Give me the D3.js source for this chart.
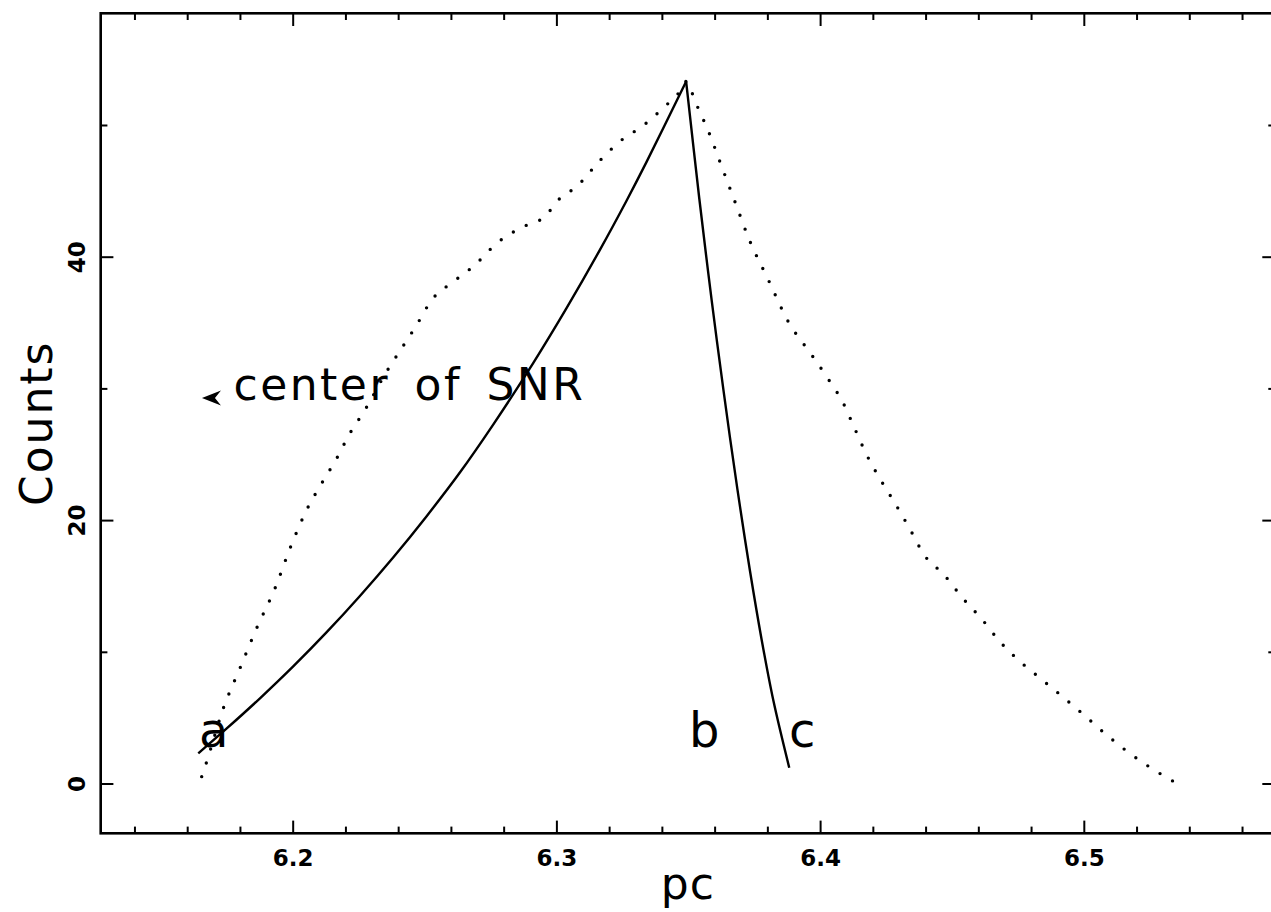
<!DOCTYPE html>
<html>
<head>
<meta charset="utf-8">
<script src="https://cdn.jsdelivr.net/npm/d3@7"></script>
<style>
  html, body { margin: 0; padding: 0; background: #fff; }
  svg { display: block; }
</style>
</head>
<body>
<svg id="chart" width="1271" height="912"></svg>
<script>
// Observed radial count profile (dotted curve)
const profilePc = [
  6.1655, 6.1674, 6.1737, 6.1800, 6.1863, 6.1933, 6.1990, 6.2053, 6.2110, 6.2167,
  6.2217, 6.2274, 6.2356, 6.2413, 6.2470, 6.2527, 6.2609, 6.2691, 6.2774, 6.2862,
  6.2963, 6.2995, 6.3083, 6.3165, 6.3250, 6.3327, 6.3408, 6.3470, 6.3492,
  6.3528, 6.3583, 6.3623, 6.3677, 6.3731, 6.3804, 6.3876, 6.3968, 6.4029, 6.4088,
  6.4132, 6.4177, 6.4230, 6.4288, 6.4341, 6.4395, 6.4471, 6.4538, 6.4613, 6.4680,
  6.4755, 6.4840, 6.4922, 6.5005, 6.5087, 6.5169, 6.5261, 6.5352
];
const profileCounts = [
  0.52, 1.66, 5.71, 8.75, 11.78, 14.82, 17.86, 20.77, 22.79, 24.69,
  26.59, 28.36, 31.27, 33.04, 34.81, 36.71, 38.10, 39.37, 41.02, 42.16,
  43.17, 44.05, 45.44, 47.30, 48.90, 49.92, 51.35, 52.60, 53.30,
  51.70, 49.20, 47.05, 44.18, 41.31, 38.23, 35.19, 32.54, 30.77, 28.87,
  26.92, 24.94, 23.04, 21.15, 19.30, 17.35, 15.83, 14.14, 12.49, 10.82,
  9.32, 7.91, 6.55, 5.13, 3.68, 2.37, 1.10, 0.02
];

// Model curve from a to the peak b
const risePc = [
  6.1642, 6.1750, 6.1876, 6.2002, 6.2129, 6.2255, 6.2381, 6.2508, 6.2634,
  6.2761, 6.2912, 6.3039, 6.3165, 6.3267, 6.3341, 6.3492
];
const riseCounts = [
  2.29, 4.18, 6.47, 8.89, 11.49, 14.24, 17.16, 20.30, 23.61,
  27.27, 31.92, 36.11, 40.52, 44.29, 47.16, 53.30
];

// Model curve from the peak b down to c
const fallPc = [6.3492, 6.3542, 6.3576, 6.3608, 6.3658, 6.3696, 6.3734, 6.3778, 6.3823, 6.3883];
const fallCounts = [53.30, 44.40, 38.76, 33.70, 26.30, 21.06, 16.15, 10.96, 6.28, 1.20];

// Axis ticks
const xMajorTicks = [6.2, 6.3, 6.4, 6.5];
const xMinorTicks = d3.range(7, 29).map(i => +(6 + i * 0.02).toFixed(2))
  .filter(v => !xMajorTicks.some(m => Math.abs(m - v) < 1e-9));
const yMajorTicks = [0, 20, 40];
const yMinorTicks = [10, 30, 50];
const xDomain = [6.1272, 6.5725];
const yDomain = [-3.78, 58.48];

// Point labels a, b, c
const pointLabels = ["a", "b", "c"];
const pointLabelPc = [6.1645, 6.3503, 6.3882];
const pointLabelCounts = [2.79, 2.79, 2.79];

// Annotation for the remnant centre
const noteText = "center of SNR";
const notePc = 6.17755;
const noteCounts = 29.12;
const arrowPc = 6.1656;
const arrowCounts = 29.27;

const svg = d3.select("#chart");
const W = 1271, H = 912;
const plotL = 100.7, plotR = 1275, plotT = 13.3, plotB = 833.3;
const FONT = "'DejaVu Sans', sans-serif";

svg.append("rect").attr("width", W).attr("height", H).attr("fill", "#fff");

const x = d3.scaleLinear().domain(xDomain).range([plotL, plotR]);
const y = d3.scaleLinear().domain(yDomain).range([plotB, plotT]);

const MAJ = 12.7, MIN = 6.7;

function styleAxis(g) {
  g.select(".domain").remove();
  g.selectAll(".tick line").attr("stroke", "#000").attr("stroke-width", 2);
  g.selectAll(".tick text")
    .attr("fill", "#000")
    .style("font-family", FONT)
    .style("font-size", "23px")
    .style("font-weight", "bold");
}

// Bottom axis
svg.append("g").attr("transform", `translate(0,${plotB})`)
  .call(d3.axisBottom(x).tickValues(xMajorTicks).tickSize(-MAJ).tickSizeOuter(0)
    .tickPadding(16.5).tickFormat(d3.format(".1f")))
  .call(styleAxis);
svg.append("g").attr("transform", `translate(0,${plotB})`)
  .call(d3.axisBottom(x).tickValues(xMinorTicks).tickSize(-MIN).tickSizeOuter(0).tickFormat(""))
  .call(styleAxis);

// Top axis
svg.append("g").attr("transform", `translate(0,${plotT})`)
  .call(d3.axisTop(x).tickValues(xMajorTicks).tickSize(-MAJ).tickSizeOuter(0).tickFormat(""))
  .call(styleAxis);
svg.append("g").attr("transform", `translate(0,${plotT})`)
  .call(d3.axisTop(x).tickValues(xMinorTicks).tickSize(-MIN).tickSizeOuter(0).tickFormat(""))
  .call(styleAxis);

// Left axis with rotated labels
const leftAxis = svg.append("g").attr("transform", `translate(${plotL},0)`)
  .call(d3.axisLeft(y).tickValues(yMajorTicks).tickSize(-MAJ).tickSizeOuter(0).tickFormat(d3.format("d")))
  .call(styleAxis);
leftAxis.selectAll(".tick text")
  .attr("x", null).attr("dy", null)
  .attr("text-anchor", "middle")
  .attr("transform", "translate(-15.7,0) rotate(-90)");
svg.append("g").attr("transform", `translate(${plotL},0)`)
  .call(d3.axisLeft(y).tickValues(yMinorTicks).tickSize(-MIN).tickSizeOuter(0).tickFormat(""))
  .call(styleAxis);

// Right axis
svg.append("g").attr("transform", `translate(${plotR},0)`)
  .call(d3.axisRight(y).tickValues(yMajorTicks).tickSize(-MAJ).tickSizeOuter(0).tickFormat(""))
  .call(styleAxis);
svg.append("g").attr("transform", `translate(${plotR},0)`)
  .call(d3.axisRight(y).tickValues(yMinorTicks).tickSize(-MIN).tickSizeOuter(0).tickFormat(""))
  .call(styleAxis);

// Frame
svg.append("rect")
  .attr("x", plotL).attr("y", plotT)
  .attr("width", plotR - plotL).attr("height", plotB - plotT)
  .attr("fill", "none").attr("stroke", "#000").attr("stroke-width", 2.6);

// Curves
const dottedLine = d3.line()
  .x(d => x(d[0])).y(d => y(d[1]))
  .curve(d3.curveMonotoneX);
const smoothLine = d3.line()
  .x(d => x(d[0])).y(d => y(d[1]))
  .curve(d3.curveCatmullRom.alpha(0.5));

const profile = d3.zip(profilePc, profileCounts);
const rise = d3.zip(risePc, riseCounts);
const fall = d3.zip(fallPc, fallCounts);

svg.append("path").datum(profile)
  .attr("d", dottedLine)
  .attr("fill", "none").attr("stroke", "#000")
  .attr("stroke-width", 3.4)
  .attr("stroke-linecap", "round")
  .attr("stroke-dasharray", "0 14.5");

[rise, fall].forEach(seg => {
  svg.append("path").datum(seg)
    .attr("d", smoothLine)
    .attr("fill", "none").attr("stroke", "#000")
    .attr("stroke-width", 2.4)
    .attr("stroke-linejoin", "miter");
});

// Point labels
svg.append("g").selectAll("text")
  .data(pointLabels)
  .join("text")
  .attr("x", (d, i) => x(pointLabelPc[i]))
  .attr("y", (d, i) => y(pointLabelCounts[i]))
  .style("font-family", FONT)
  .style("font-size", "48px")
  .attr("fill", "#000")
  .text(d => d);

// Annotation with arrowhead
svg.append("text")
  .attr("x", x(notePc)).attr("y", y(noteCounts))
  .style("font-family", FONT)
  .style("font-size", "44px")
  .style("letter-spacing", "2.5px")
  .style("word-spacing", "8px")
  .attr("fill", "#000")
  .text(noteText);

const ax = x(arrowPc), ay = y(arrowCounts);
svg.append("path")
  .attr("d", `M${ax},${ay} L${ax + 19},${ay - 7.5} L${ax + 13},${ay} L${ax + 19},${ay + 7.5} Z`)
  .attr("fill", "#000");

// Axis titles
svg.append("text")
  .attr("x", (plotL + plotR) / 2).attr("y", 899)
  .attr("text-anchor", "middle")
  .style("font-family", FONT)
  .style("font-size", "44px")
  .style("letter-spacing", "1px")
  .attr("fill", "#000")
  .text("pc");

svg.append("text")
  .attr("transform", `translate(52,${(plotT + plotB) / 2}) rotate(-90)`)
  .attr("text-anchor", "middle")
  .style("font-family", FONT)
  .style("font-size", "44px")
  .style("letter-spacing", "2px")
  .attr("fill", "#000")
  .text("Counts");
</script>
</body>
</html>
